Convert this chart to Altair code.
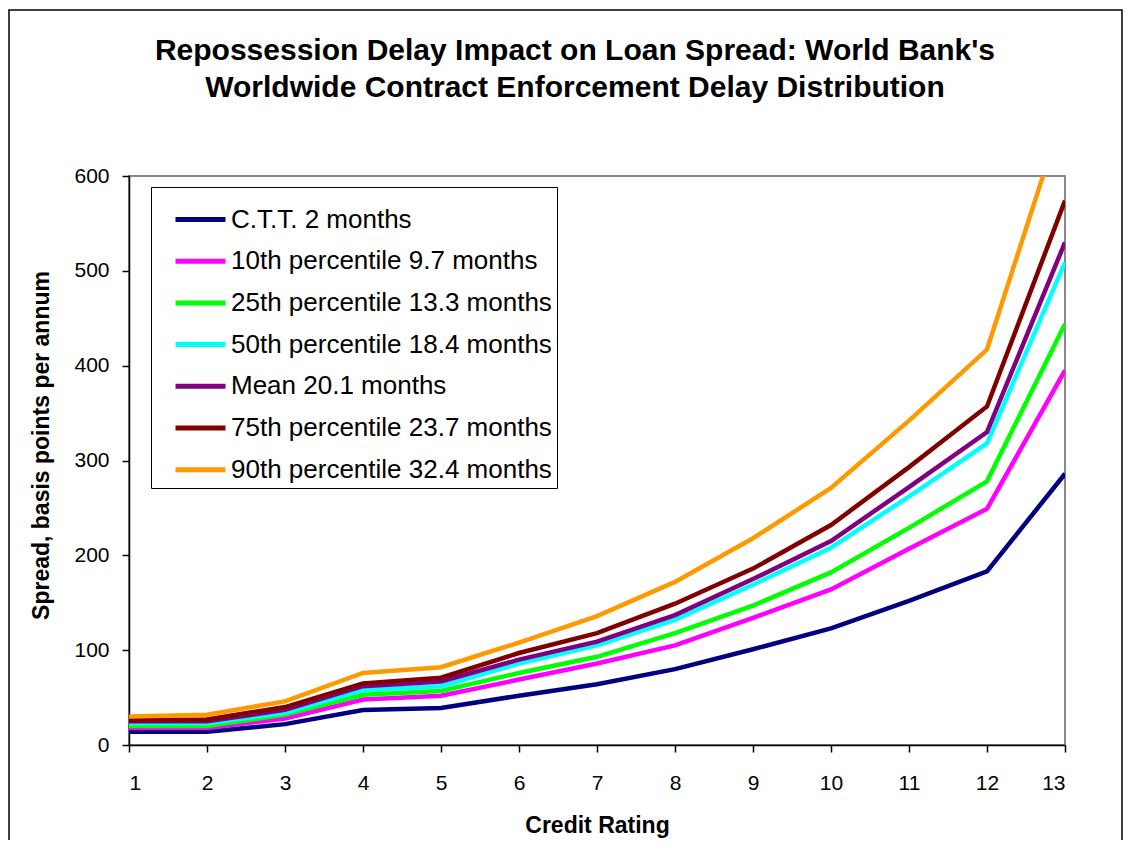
import altair as alt
import pandas as pd

ratings = list(range(1, 14))
series_names = [
    "C.T.T. 2 months",
    "10th percentile 9.7 months",
    "25th percentile 13.3 months",
    "50th percentile 18.4 months",
    "Mean 20.1 months",
    "75th percentile 23.7 months",
    "90th percentile 32.4 months",
]
series_colors = ["#000080", "#FF00FF", "#00FF00", "#00FFFF", "#800080", "#800000", "#FF9900"]

ctt = [14, 14, 22, 37, 39, 52, 64, 80, 101, 123, 152, 183, 286]
p10 = [18, 18, 28, 48, 52, 69, 86, 105, 134, 164, 207, 249, 395]
p25 = [20, 20, 32, 53, 57, 76, 93, 118, 147, 182, 229, 278, 444]
p50 = [23, 23, 34, 58, 62, 86, 105, 132, 169, 208, 262, 318, 509]
mean = [25, 25, 37, 62, 67, 90, 109, 137, 175, 215, 272, 330, 530]
p75 = [26, 27, 40, 65, 71, 97, 118, 149, 186, 232, 293, 357, 574]
p90 = [30, 32, 46, 76, 82, 108, 136, 172, 218, 271, 342, 417, 672]

all_values = [ctt, p10, p25, p50, mean, p75, p90]
rows = []
for name, vals in zip(series_names, all_values):
    for r, v in zip(ratings, vals):
        rows.append({"Series": name, "Rating": r, "Spread": v})
df = pd.DataFrame(rows)

W, H = 936, 569
FONT = "Liberation Sans"

lines = alt.Chart(df).mark_line(strokeWidth=4.5, clip=True).encode(
    x=alt.X("Rating:Q",
            scale=alt.Scale(domain=[1, 13], nice=False, zero=False),
            axis=alt.Axis(title="Credit Rating", values=ratings, format="d",
                          tickSize=7, labelPadding=20, titlePadding=21,
                          grid=False)),
    y=alt.Y("Spread:Q",
            scale=alt.Scale(domain=[0, 600], nice=False),
            axis=alt.Axis(title="Spread, basis points per annum",
                          values=[0, 100, 200, 300, 400, 500, 600],
                          tickSize=7, labelPadding=13, titlePadding=20,
                          titleX=-76, titleY=269,
                          grid=False)),
    color=alt.Color("Series:N",
                    scale=alt.Scale(domain=series_names, range=series_colors),
                    legend=alt.Legend(title=None, orient="none", legendX=22, legendY=11,
                                      symbolType="stroke", symbolSize=2500,
                                      symbolStrokeWidth=5, symbolOffset=17,
                                      labelFontSize=26,
                                      labelFont=FONT, labelOffset=3, labelLimit=500,
                                      strokeColor="#000000", fillColor="#FFFFFF",
                                      padding=5, rowPadding=0.7)),
    detail="Series:N",
)

frame_df = pd.DataFrame({"k": [0]})
frame = alt.Chart(frame_df).mark_rect(fill=None, stroke="#000000", strokeWidth=1.5, clip=False).encode(
    x=alt.value(-120), x2=alt.value(W + 57),
    y=alt.value(-166), y2=alt.value(H + 140),
)

chart = alt.layer(frame, lines).properties(
    width=W, height=H,
    padding={"left": 121, "top": 168, "right": 58, "bottom": 95},
    autosize=alt.AutoSizeParams(type="none"),
    title=alt.Title(
        ["Repossession Delay Impact on Loan Spread: World Bank's",
         "Worldwide Contract Enforcement Delay Distribution"],
        font=FONT, fontSize=30, fontWeight="bold", anchor="middle",
        dx=-22, offset=-94, lineHeight=37, color="#000000"),
).configure_view(
    stroke="#888888", strokeWidth=2
).configure_axis(
    labelFont=FONT, titleFont=FONT, labelFontSize=21, titleFontSize=23,
    titleFontWeight="bold", labelColor="#000000", titleColor="#000000",
    domainColor="#000000", tickColor="#000000", domainWidth=1.5, tickWidth=1.5,
)

chart.save("out.html", embed_options={"renderer": "svg", "actions": False})
